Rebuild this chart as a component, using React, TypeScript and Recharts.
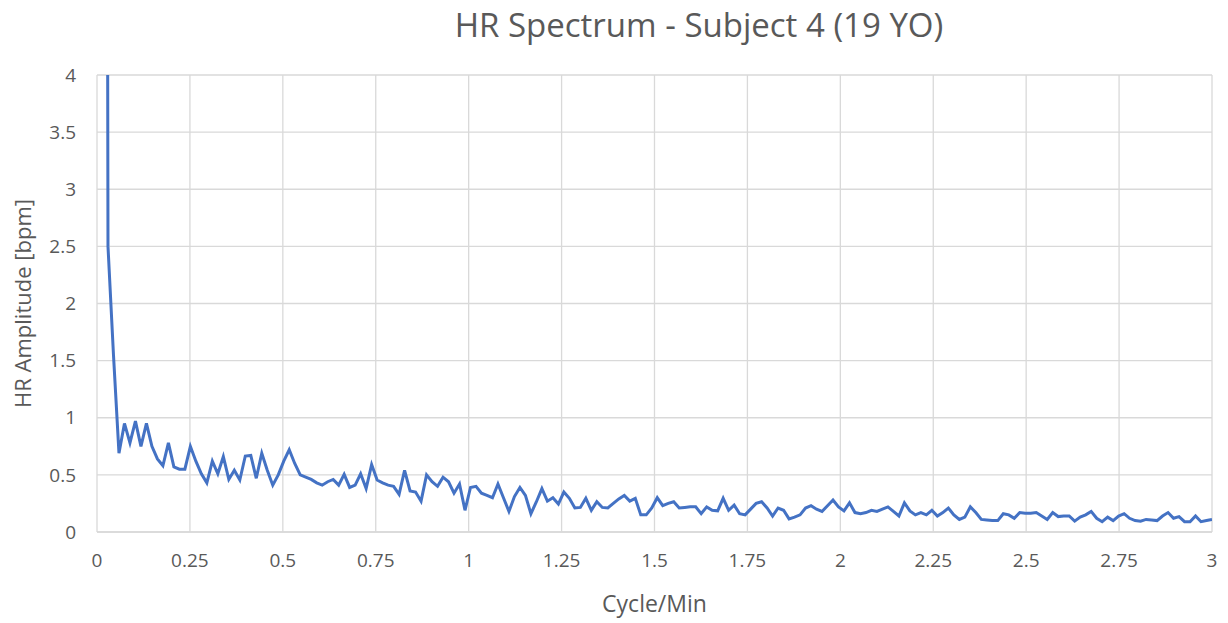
import React from "react";
import { LineChart, Line, XAxis, YAxis, CartesianGrid } from "recharts";

const FREQ_STEP = 3 / 203;

const AMPLITUDE: number[] = [
  60, 30, 2.5, 1.55, 0.69, 0.95, 0.78, 0.97, 0.75, 0.95,
  0.75, 0.64, 0.58, 0.78, 0.57, 0.55, 0.55, 0.75, 0.62, 0.51,
  0.43, 0.62, 0.51, 0.66, 0.46, 0.54, 0.455, 0.665, 0.67, 0.47,
  0.69, 0.54, 0.41, 0.5, 0.62, 0.72, 0.6, 0.5, 0.48, 0.46,
  0.43, 0.41, 0.44, 0.46, 0.41, 0.505, 0.39, 0.41, 0.51, 0.38,
  0.59, 0.455, 0.43, 0.41, 0.4, 0.33, 0.54, 0.36, 0.35, 0.27,
  0.5, 0.44, 0.4, 0.48, 0.44, 0.34, 0.42, 0.19, 0.39, 0.4,
  0.34, 0.32, 0.3, 0.42, 0.3, 0.18, 0.31, 0.39, 0.32, 0.16,
  0.265, 0.38, 0.27, 0.3, 0.245, 0.35, 0.295, 0.21, 0.215, 0.295,
  0.19, 0.265, 0.215, 0.21, 0.25, 0.29, 0.32, 0.27, 0.295, 0.15,
  0.15, 0.21, 0.3, 0.23, 0.25, 0.265, 0.21, 0.215, 0.22, 0.22,
  0.16, 0.22, 0.19, 0.185, 0.295, 0.19, 0.235, 0.16, 0.15, 0.2,
  0.25, 0.265, 0.21, 0.14, 0.21, 0.19, 0.115, 0.13, 0.15, 0.21,
  0.23, 0.2, 0.18, 0.23, 0.28, 0.22, 0.185, 0.255, 0.17, 0.16,
  0.17, 0.19, 0.18, 0.2, 0.22, 0.18, 0.14, 0.255, 0.185, 0.15,
  0.17, 0.15, 0.19, 0.14, 0.17, 0.21, 0.15, 0.11, 0.13, 0.22,
  0.17, 0.11, 0.105, 0.1, 0.1, 0.16, 0.15, 0.12, 0.17, 0.165,
  0.165, 0.17, 0.14, 0.11, 0.17, 0.135, 0.14, 0.14, 0.095, 0.13,
  0.15, 0.18, 0.12, 0.09, 0.13, 0.1, 0.14, 0.16, 0.12, 0.1,
  0.095, 0.11, 0.105, 0.1, 0.14, 0.17, 0.12, 0.135, 0.09, 0.09,
  0.14, 0.09, 0.1, 0.11,
];

const X_TICKS = [0, 0.25, 0.5, 0.75, 1, 1.25, 1.5, 1.75, 2, 2.25, 2.5, 2.75, 3];
const Y_TICKS = [0, 0.5, 1, 1.5, 2, 2.5, 3, 3.5, 4];

const TITLE = "HR Spectrum - Subject 4 (19 YO)";
const X_LABEL = "Cycle/Min";
const Y_LABEL = "HR Amplitude [bpm]";

const data = AMPLITUDE.map((a, i) => ({ freq: i * FREQ_STEP, amp: a }));

const FONT = "'Open Sans', sans-serif";
const TEXT = "#595959";
const GRID = "#D9D9D9";

export default function App() {
  return (
    <div style={{ position: "relative", width: 1220, height: 615, fontFamily: FONT }}>
      <div
        style={{
          position: "absolute",
          left: 341,
          top: -6,
          width: 700,
          textAlign: "center",
          fontSize: 33,
          color: TEXT,
          fontFamily: FONT,
          whiteSpace: "nowrap",
        }}
      >
        {TITLE}
      </div>
      <LineChart
        width={1220}
        height={615}
        data={data}
        margin={{ top: 67, right: 16, bottom: 11, left: 0 }}
        style={{ overflow: "visible" }}
      >
        <CartesianGrid stroke={GRID} strokeWidth={1.3} />
        <XAxis
          dataKey="freq"
          type="number"
          domain={[0, 3]}
          ticks={X_TICKS}
          allowDataOverflow
          tickLine={false}
          axisLine={{ stroke: GRID, strokeWidth: 1.3 }}
          tick={{ fill: TEXT, fontSize: 19, fontFamily: FONT }}
          tickMargin={16}
          height={80}
          label={{
            value: X_LABEL,
            position: "insideBottom",
            offset: 0,
            fill: TEXT,
            fontSize: 23,
            fontFamily: FONT,
          }}
        />
        <YAxis
          type="number"
          domain={[0, 4]}
          ticks={Y_TICKS}
          allowDataOverflow
          axisLine={false}
          tickLine={false}
          width={89}
          tick={{ fill: TEXT, fontSize: 19, fontFamily: FONT }}
          tickMargin={15}
          label={{
            value: Y_LABEL,
            angle: -90,
            position: "insideLeft",
            offset: 15,
            fill: TEXT,
            fontSize: 22,
            fontFamily: FONT,
            style: { textAnchor: "middle" },
          }}
        />
        <Line
          type="linear"
          dataKey="amp"
          stroke="#4472C4"
          strokeWidth={3}
          dot={false}
          activeDot={false}
          isAnimationActive={false}
        />
      </LineChart>
    </div>
  );
}
